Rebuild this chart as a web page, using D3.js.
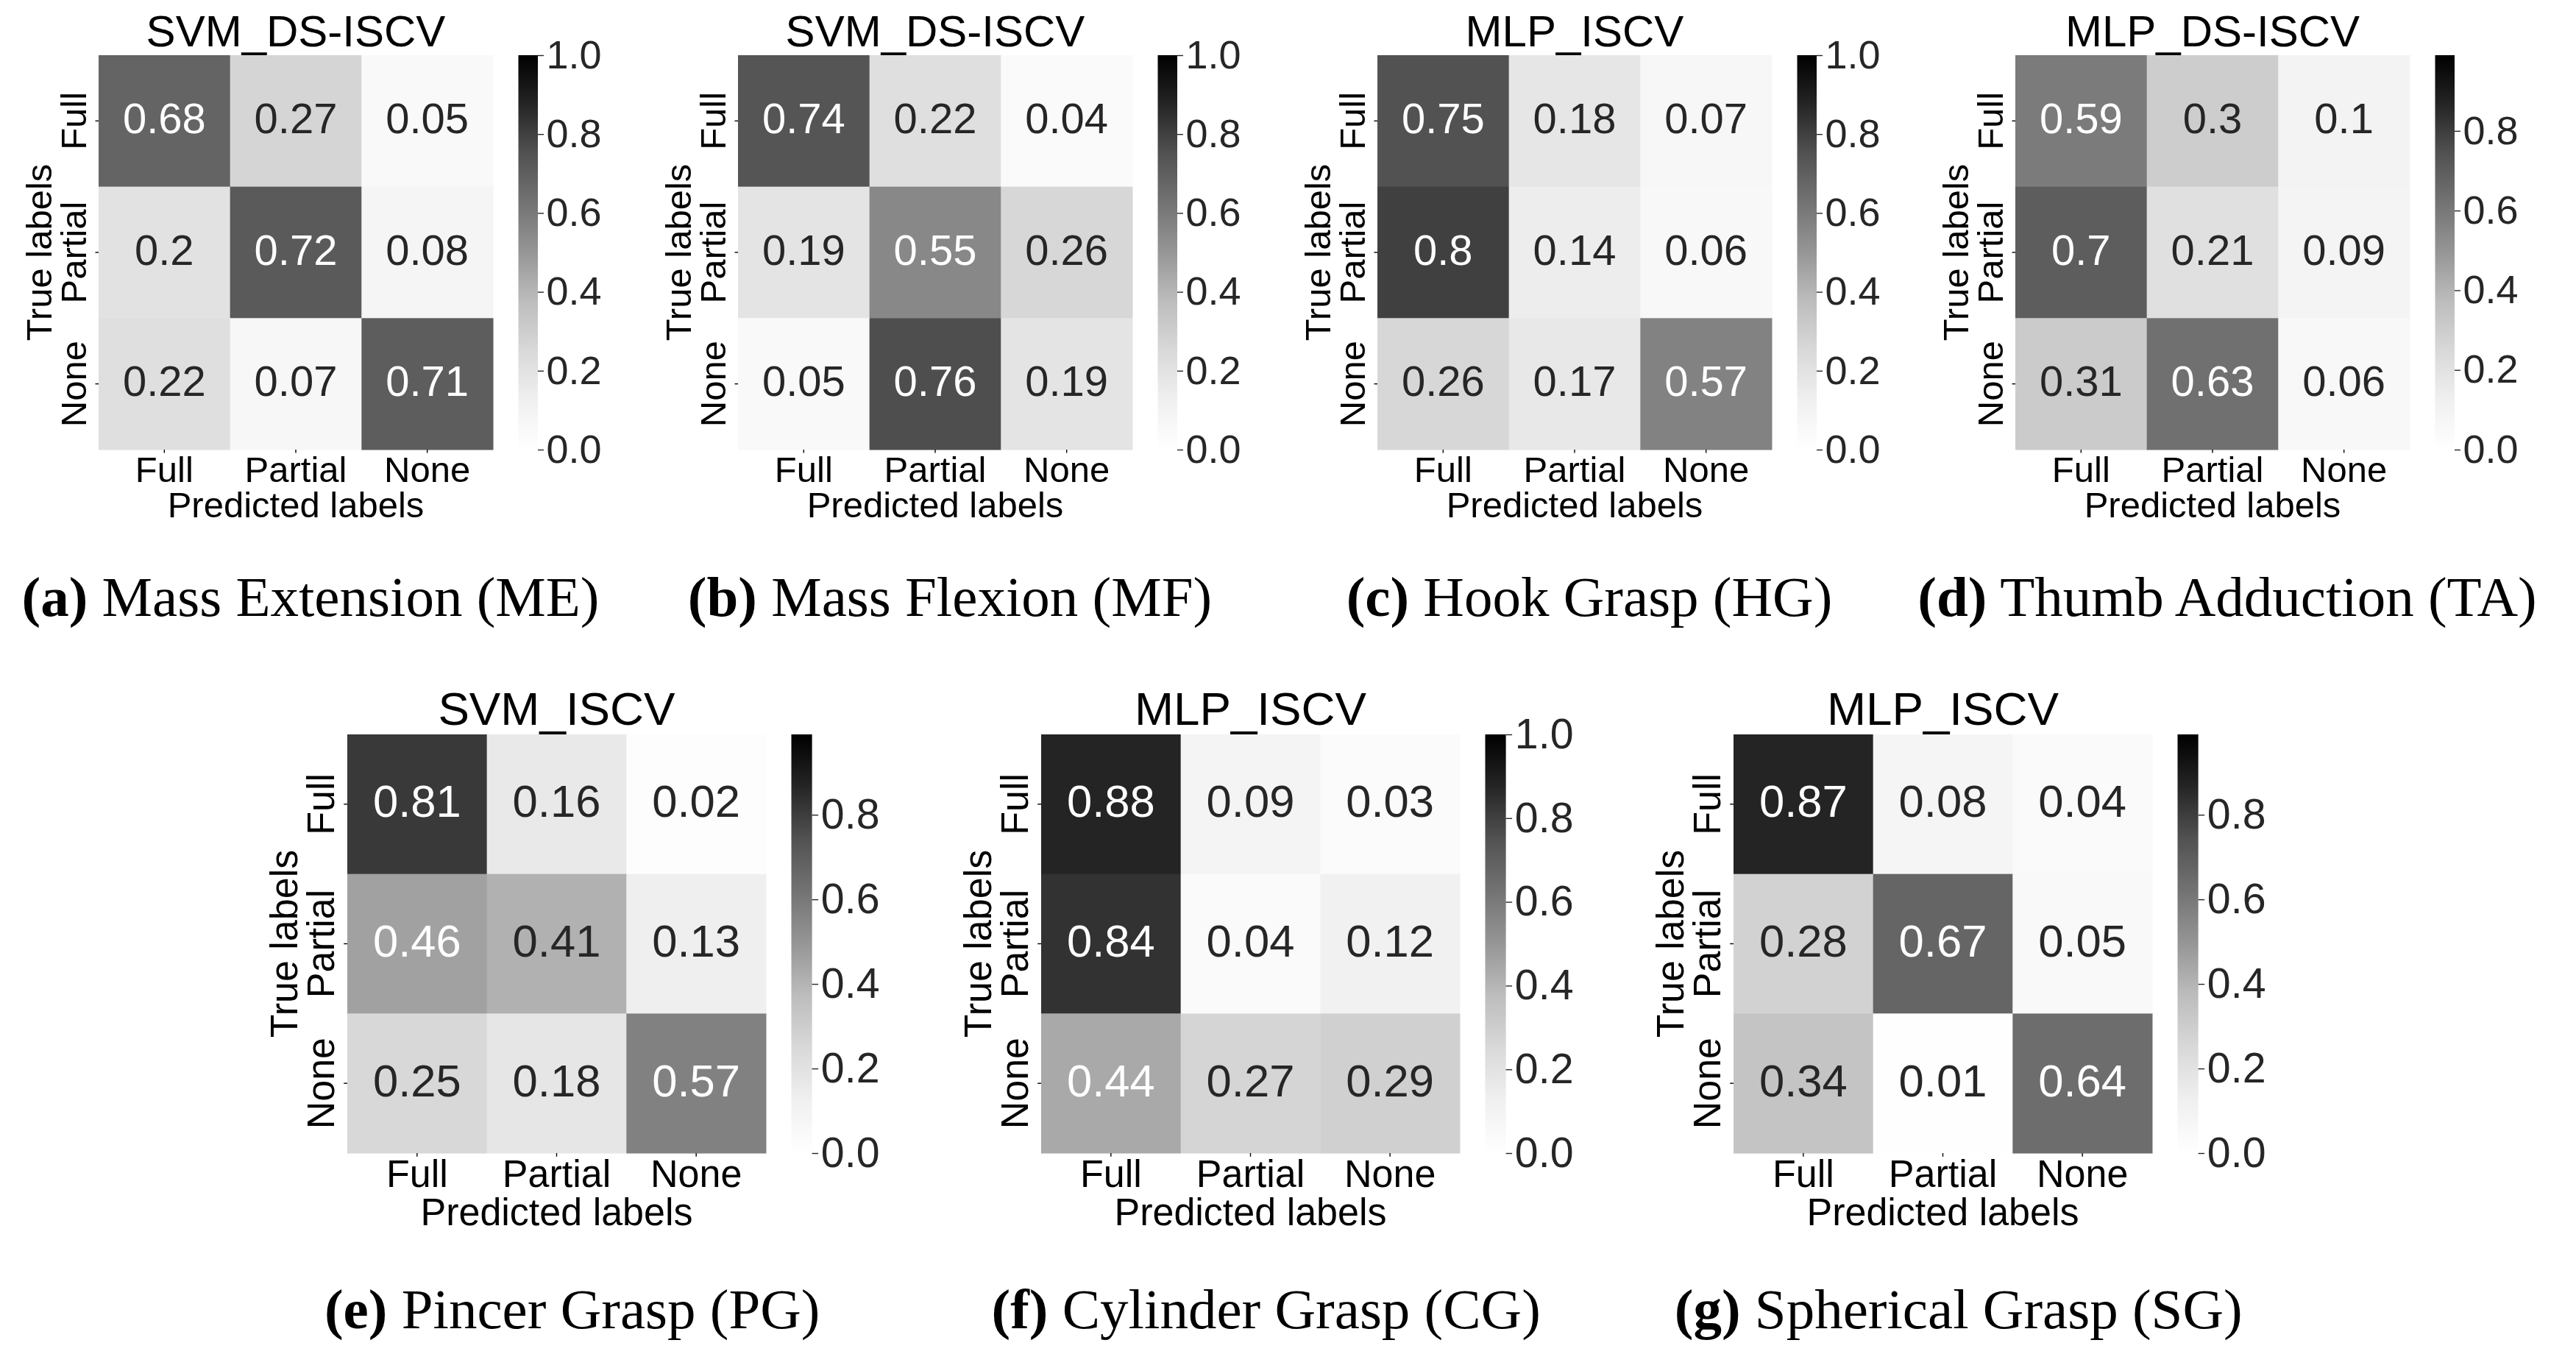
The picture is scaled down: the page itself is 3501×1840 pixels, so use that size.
<!DOCTYPE html>
<html>
<head>
<meta charset="utf-8">
<script src="https://cdn.jsdelivr.net/npm/d3@7"></script>
<style>
  body { margin: 0; background: #fff; }
  svg { display: block; }
</style>
</head>
<body>
<svg id="fig" width="3501" height="1840"></svg>
<script>
// labels shared by every matrix
const classes = ["Full", "Partial", "None"];
const modelTitles = ["SVM_DS-ISCV", "SVM_DS-ISCV", "MLP_ISCV", "MLP_DS-ISCV", "SVM_ISCV", "MLP_ISCV", "MLP_ISCV"];
const captionTags = ["(a)", "(b)", "(c)", "(d)", "(e)", "(f)", "(g)"];
const captionNames = ["Mass Extension (ME)", "Mass Flexion (MF)", "Hook Grasp (HG)", "Thumb Adduction (TA)",
    "Pincer Grasp (PG)", "Cylinder Grasp (CG)", "Spherical Grasp (SG)"];

// rows = true label, cols = predicted label
const massExtension = [[0.68, 0.27, 0.05], [0.2, 0.72, 0.08], [0.22, 0.07, 0.71]];
const massFlexion = [[0.74, 0.22, 0.04], [0.19, 0.55, 0.26], [0.05, 0.76, 0.19]];
const hookGrasp = [[0.75, 0.18, 0.07], [0.8, 0.14, 0.06], [0.26, 0.17, 0.57]];
const thumbAdduction = [[0.59, 0.3, 0.1], [0.7, 0.21, 0.09], [0.31, 0.63, 0.06]];
const pincerGrasp = [[0.81, 0.16, 0.02], [0.46, 0.41, 0.13], [0.25, 0.18, 0.57]];
const cylinderGrasp = [[0.88, 0.09, 0.03], [0.84, 0.04, 0.12], [0.44, 0.27, 0.29]];
const sphericalGrasp = [[0.87, 0.08, 0.04], [0.28, 0.67, 0.05], [0.34, 0.01, 0.64]];

// top of each colour bar
const colorMax = [1, 1, 1, 0.99, 0.99, 1, 0.99];
const colorbarTicks = [0, 0.2, 0.4, 0.6, 0.8, 1.0];

// matplotlib "Greys"
const greys = ["#ffffff", "#f0f0f0", "#d9d9d9", "#bdbdbd", "#969696", "#737373", "#525252", "#252525", "#000000"];

const matrices = [massExtension, massFlexion, hookGrasp, thumbAdduction, pincerGrasp, cylinderGrasp, sphericalGrasp];

// panel placement (heatmap box) and text scale
const layout = [
    {x: 134, y: 75, size: 536, k: 1, capY: 837},
    {x: 1003, y: 75, size: 536, k: 1, capY: 837},
    {x: 1872, y: 75, size: 536, k: 1, capY: 837},
    {x: 2739, y: 75, size: 536, k: 1, capY: 837},
    {x: 472, y: 998, size: 569, k: 1.062, capY: 1805},
    {x: 1415, y: 998, size: 569, k: 1.062, capY: 1805},
    {x: 2356, y: 998, size: 569, k: 1.062, capY: 1805}
];

const SANS = "'Liberation Sans', Arial, sans-serif";
const SERIF = "'Liberation Serif', 'Times New Roman', serif";

const svg = d3.select("#fig");
svg.append("rect").attr("width", 3501).attr("height", 1840).attr("fill", "#fff");
const defs = svg.append("defs");

function textColor(c) {
    const {r, g, b} = d3.rgb(c);
    const lin = v => {
        v /= 255;
        return v <= 0.03928 ? v / 12.92 : Math.pow((v + 0.055) / 1.055, 2.4);
    };
    const lum = 0.2126 * lin(r) + 0.7152 * lin(g) + 0.0722 * lin(b);
    return lum > 0.408 ? "#262626" : "#ffffff";
}

function drawPanel(i) {
    const L = layout[i], k = L.k, data = matrices[i], vmax = colorMax[i];
    const g = svg.append("g");

    const x = d3.scaleBand().domain(classes).range([L.x, L.x + L.size]);
    const y = d3.scaleBand().domain(classes).range([L.y, L.y + L.size]);
    const color = d3.scaleLinear()
        .domain(greys.map((_, j) => j / (greys.length - 1) * vmax))
        .range(greys)
        .clamp(true);

    const cells = data.flatMap((row, r) => row.map((v, c) => ({r, c, v})));

    g.selectAll("rect.cell").data(cells).join("rect")
        .attr("class", "cell")
        .attr("x", d => x(classes[d.c]))
        .attr("y", d => y(classes[d.r]))
        .attr("width", x.bandwidth() + 0.5)
        .attr("height", y.bandwidth() + 0.5)
        .attr("fill", d => color(d.v));

    const numSize = 58 * k;
    g.selectAll("text.val").data(cells).join("text")
        .attr("class", "val")
        .attr("x", d => x(classes[d.c]) + x.bandwidth() / 2)
        .attr("y", d => y(classes[d.r]) + y.bandwidth() / 2 + 0.285 * numSize)
        .attr("text-anchor", "middle")
        .attr("font-family", SANS)
        .attr("font-size", numSize)
        .attr("fill", d => textColor(color(d.v)))
        .text(d => String(d.v));

    const tickFont = 49 * k;

    // x axis
    const xAxis = g.append("g")
        .attr("transform", `translate(0,${L.y + L.size})`)
        .call(d3.axisBottom(x).tickSize(4.5 * k).tickSizeOuter(0));
    xAxis.select(".domain").remove();
    xAxis.selectAll(".tick line").attr("stroke", "#000").attr("stroke-width", 1.4);
    xAxis.selectAll(".tick text")
        .attr("y", 43.7 * k).attr("dy", null)
        .attr("font-family", SANS).attr("font-size", tickFont).attr("fill", "#000");

    // y axis, labels turned upright
    const yAxis = g.append("g")
        .attr("transform", `translate(${L.x},0)`)
        .call(d3.axisLeft(y).tickSize(4.5 * k).tickSizeOuter(0));
    yAxis.select(".domain").remove();
    yAxis.selectAll(".tick line").attr("stroke", "#000").attr("stroke-width", 1.4);
    yAxis.selectAll(".tick text")
        .attr("x", null).attr("dy", null)
        .attr("transform", `translate(${-17 * k},0) rotate(-90)`)
        .attr("text-anchor", "middle")
        .attr("font-family", SANS).attr("font-size", tickFont).attr("fill", "#000");

    // axis titles
    g.append("text")
        .attr("x", L.x + L.size / 2).attr("y", L.y + L.size + 92 * k)
        .attr("text-anchor", "middle")
        .attr("font-family", SANS).attr("font-size", tickFont)
        .text("Predicted labels");
    g.append("text")
        .attr("transform", `translate(${L.x - 64 * k},${L.y + L.size / 2}) rotate(-90)`)
        .attr("text-anchor", "middle")
        .attr("font-family", SANS).attr("font-size", tickFont)
        .text("True labels");

    // panel title
    g.append("text")
        .attr("x", L.x + L.size / 2).attr("y", L.y - 12 * k)
        .attr("text-anchor", "middle")
        .attr("font-family", SANS).attr("font-size", 60 * k)
        .text(modelTitles[i]);

    // colour bar
    const cbX = L.x + L.size + 34.5, cbW = 26.5 * k;
    const grad = defs.append("linearGradient")
        .attr("id", `grad${i}`)
        .attr("x1", 0).attr("y1", 1).attr("x2", 0).attr("y2", 0);
    grad.selectAll("stop").data(greys).join("stop")
        .attr("offset", (_, j) => j / (greys.length - 1))
        .attr("stop-color", d => d);
    g.append("rect")
        .attr("x", cbX).attr("y", L.y)
        .attr("width", cbW).attr("height", L.size)
        .attr("fill", `url(#grad${i})`);

    const cb = d3.scaleLinear().domain([0, vmax]).range([L.y + L.size, L.y]);
    const cbAxis = g.append("g")
        .attr("transform", `translate(${cbX + cbW},0)`)
        .call(d3.axisRight(cb)
            .tickValues(colorbarTicks.filter(t => t <= vmax + 1e-9))
            .tickFormat(d3.format(".1f"))
            .tickSize(8 * k).tickPadding(3.5 * k).tickSizeOuter(0));
    cbAxis.select(".domain").remove();
    cbAxis.selectAll(".tick line").attr("stroke", "#262626").attr("stroke-width", 1.4);
    cbAxis.selectAll(".tick text")
        .attr("font-family", SANS).attr("font-size", 54 * k).attr("fill", "#262626");

    // sub-figure caption
    const cap = g.append("text")
        .attr("x", L.x + L.size / 2 + 20 * k).attr("y", L.capY)
        .attr("text-anchor", "middle")
        .attr("font-family", SERIF).attr("font-size", 77)
        .attr("fill", "#000");
    cap.append("tspan").attr("font-weight", "bold").text(captionTags[i]);
    cap.append("tspan").text(" " + captionNames[i]);
}

matrices.forEach((_, i) => drawPanel(i));
</script>
</body>
</html>
